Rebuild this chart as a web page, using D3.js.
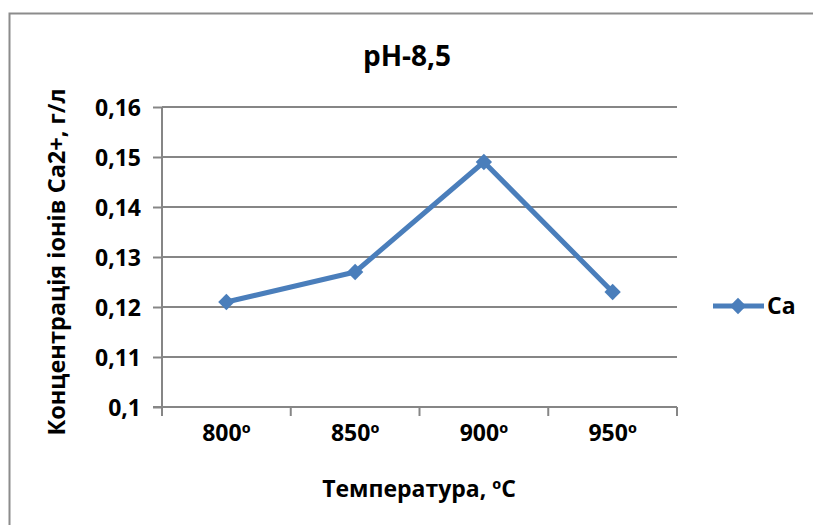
<!DOCTYPE html>
<html><head><meta charset="utf-8">
<script src="https://cdn.jsdelivr.net/npm/d3@7"></script>
<style>body{margin:0;background:#fff}svg{display:block}text{font-family:"Open Sans",Lato,sans-serif;font-weight:bold;fill:#000}</style>
</head><body><svg id="c" width="813" height="525"></svg>
<script>
const categories = ["800º","850º","900º","950º"];
const caValues = [0.121, 0.127, 0.149, 0.123];
const yTicks = [0.10,0.11,0.12,0.13,0.14,0.15,0.16];
const title = "pH-8,5";
const xTitle = "Температура, ºC";
const yTitle = "Концентрація іонів Ca2+, г/л";
const seriesName = "Ca";

const svg = d3.select("#c");
const color = "#4a7ebb";
const grid = "#868686";
const L=162, R=677, T=107, B=407;
const fs = "23px";

svg.append("rect").attr("x",9.5).attr("y",13.5).attr("width",900).attr("height",600)
  .attr("fill","#fff").attr("stroke","#8c8c8c").attr("stroke-width",2);

const x = d3.scaleBand().domain(categories).range([L,R]);
const y = d3.scaleLinear().domain([0.10,0.16]).range([B,T]);

svg.append("g").selectAll("line").data(yTicks.slice(1)).join("line")
  .attr("x1",L).attr("x2",R).attr("y1",d=>y(d)).attr("y2",d=>y(d))
  .attr("stroke",grid).attr("stroke-width",2);

const fmt = d => d3.format(".2~f")(d).replace(".",",");
const ya = svg.append("g").attr("transform",`translate(${L},0)`)
  .call(d3.axisLeft(y).tickValues(yTicks).tickFormat(fmt).tickSize(9).tickPadding(12));
ya.select(".domain").attr("stroke",grid).attr("stroke-width",2).attr("d",`M0,${T}V${B}`);
ya.selectAll(".tick line").attr("stroke",grid).attr("stroke-width",2);
ya.selectAll("text").style("font-size",fs).attr("dy","0.35em");

const xa = svg.append("g").attr("transform",`translate(0,${B})`)
  .call(d3.axisBottom(x).tickSize(0).tickPadding(18));
xa.select(".domain").remove();
xa.selectAll("text").style("font-size",fs);
const bounds = categories.map(c=>x(c)).concat([R]);
svg.append("g").selectAll("line").data(bounds).join("line")
  .attr("x1",d=>d).attr("x2",d=>d).attr("y1",B).attr("y2",B+9)
  .attr("stroke",grid).attr("stroke-width",2);
svg.append("line").attr("x1",L-9).attr("x2",R).attr("y1",B).attr("y2",B)
  .attr("stroke",grid).attr("stroke-width",2);

const cx = c => x(c)+x.bandwidth()/2;
const pts = categories.map((c,i)=>[cx(c), y(caValues[i])]);
svg.append("path").attr("d",d3.line()(pts)).attr("fill","none")
  .attr("stroke",color).attr("stroke-width",5).attr("stroke-linejoin","round");
const diamond = d3.symbol().type(d3.symbolDiamond2).size(170);
svg.append("g").selectAll("path").data(pts).join("path")
  .attr("d",diamond).attr("transform",d=>`translate(${d[0]},${d[1]})`).attr("fill",color);

svg.append("text").attr("x",407).attr("y",66).attr("text-anchor","middle").style("font-size","28px").text(title);
svg.append("text").attr("x",419).attr("y",497).attr("text-anchor","middle").style("font-size",fs).text(xTitle);
svg.append("text").attr("transform","translate(65,262) rotate(-90)").attr("text-anchor","middle").style("font-size","23.5px").text(yTitle);

svg.append("line").attr("x1",713).attr("x2",764).attr("y1",306).attr("y2",306).attr("stroke",color).attr("stroke-width",5);
svg.append("path").attr("d",diamond).attr("transform","translate(738,306)").attr("fill",color);
svg.append("text").attr("x",767).attr("y",314).style("font-size",fs).text(seriesName);
</script></body></html>
